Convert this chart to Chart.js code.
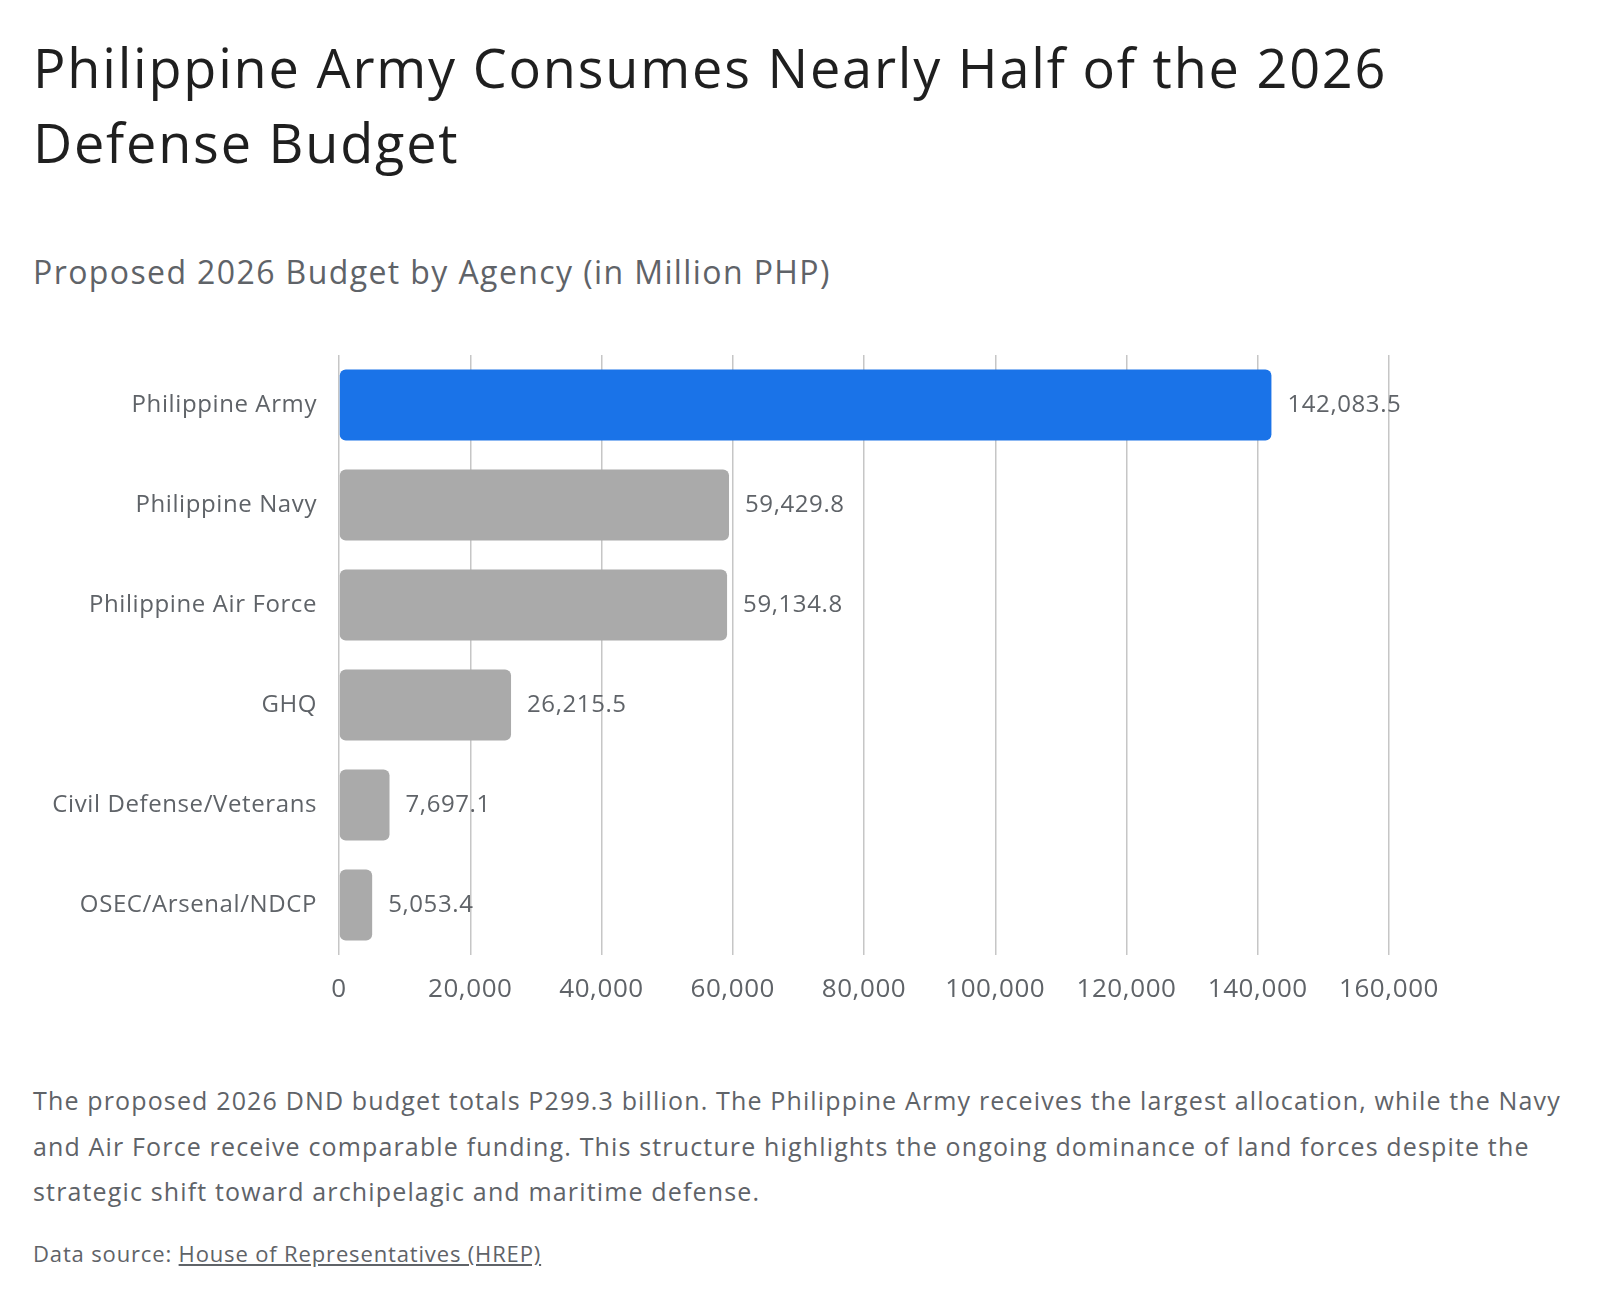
<!DOCTYPE html>
<html>
<head>
<meta charset="utf-8">
<script src="https://cdn.jsdelivr.net/npm/chart.js@4/dist/chart.umd.min.js"></script>
<style>
  body { margin: 0; background: #fff; font-family: "Open Sans", sans-serif; }
  #page { position: relative; width: 1600px; height: 1302px; }
  h1 { position: absolute; left: 33px; top: 30px; margin: 0; font-weight: 400; font-size: 54px; line-height: 75px; letter-spacing: 1.8px; color: #1f1f1f; }
  h2 { position: absolute; left: 33px; top: 250px; margin: 0; font-weight: 400; font-size: 32px; letter-spacing: 1.4px; color: #5f6368; }
  #wrap { position: absolute; left: 0; top: 330px; width: 1600px; height: 690px; }
  #note { position: absolute; left: 33px; top: 1078px; margin: 0; font-size: 25px; line-height: 45.5px; letter-spacing: 1.15px; color: #5f6368; }
  #src { position: absolute; left: 33px; top: 1238px; margin: 0; font-size: 22px; letter-spacing: 0.85px; color: #5f6368; }
  #src a { color: #5f6368; }
</style>
</head>
<body>
<div id="page">
  <h1>Philippine Army Consumes Nearly Half of the 2026<br>Defense Budget</h1>
  <h2>Proposed 2026 Budget by Agency (in Million PHP)</h2>
  <div id="wrap"><canvas id="myChart"></canvas></div>
  <p id="note">The proposed 2026 DND budget totals P299.3 billion. The Philippine Army receives the largest allocation, while the Navy<br>and Air Force receive comparable funding. This structure highlights the ongoing dominance of land forces despite the<br>strategic shift toward archipelagic and maritime defense.</p>
  <p id="src">Data source: <a href="#">House of Representatives (HREP)</a></p>
</div>
<script>
const agencies = ["Philippine Army", "Philippine Navy", "Philippine Air Force", "GHQ", "Civil Defense/Veterans", "OSEC/Arsenal/NDCP"];
const budget = [142083.5, 59429.8, 59134.8, 26215.5, 7697.1, 5053.4];
const xTicks = [0, 20000, 40000, 60000, 80000, 100000, 120000, 140000, 160000];

const fmt = (v, d) => v.toLocaleString("en-US", { minimumFractionDigits: d, maximumFractionDigits: d });

// a little extra spacing so Open Sans gets closer to the original face
const spacing = {
  id: "spacing",
  beforeDraw(chart) {
    chart.ctx.letterSpacing = "0.6px";
  },
};

// value labels to the right of each bar
const valueLabels = {
  id: "valueLabels",
  afterDatasetsDraw(chart) {
    const ctx = chart.ctx;
    const meta = chart.getDatasetMeta(0);
    ctx.save();
    ctx.font = "24px 'Open Sans'";
    ctx.fillStyle = "#5f6368";
    ctx.textAlign = "left";
    ctx.textBaseline = "middle";
    meta.data.forEach((bar, i) => {
      ctx.fillText(fmt(budget[i], 1), bar.x + 16, bar.y);
    });
    ctx.restore();
  },
};

window.onload = () => {
  const ctx = document.getElementById("myChart");
  new Chart(ctx, {
    type: "bar",
    data: {
      labels: agencies,
      datasets: [{
        data: budget,
        backgroundColor: budget.map((v, i) => (i === 0 ? "#1a73e8" : "#aaaaaa")),
        borderRadius: 6,
        borderSkipped: false,
        barPercentage: 0.71,
        categoryPercentage: 1,
      }],
    },
    options: {
      indexAxis: "y",
      responsive: true,
      maintainAspectRatio: false,
      animation: false,
      layout: { padding: { left: 0, right: 211, top: 25, bottom: 0 } },
      plugins: { legend: { display: false }, tooltip: { enabled: false } },
      scales: {
        x: {
          min: 0,
          max: 160000,
          afterBuildTicks: (s) => { s.ticks = xTicks.map((v) => ({ value: v })); },
          afterFit: (s) => { s.height = 65; s.paddingLeft = 0; s.paddingRight = 0; },
          grid: { color: "#c6c6c6", lineWidth: 1.5, drawTicks: false },
          border: { display: false },
          ticks: {
            padding: 19,
            color: "#5f6368",
            font: { family: "'Open Sans'", size: 26 },
            callback: (v) => fmt(v, 0),
          },
        },
        y: {
          afterFit: (s) => { s.width = 339; s.paddingTop = 0; s.paddingBottom = 0; },
          grid: { display: false, drawTicks: false },
          border: { display: false },
          ticks: {
            padding: 22,
            color: "#5f6368",
            font: { family: "'Open Sans'", size: 24 },
          },
        },
      },
    },
    plugins: [spacing, valueLabels],
  });
};
</script>
</body>
</html>
